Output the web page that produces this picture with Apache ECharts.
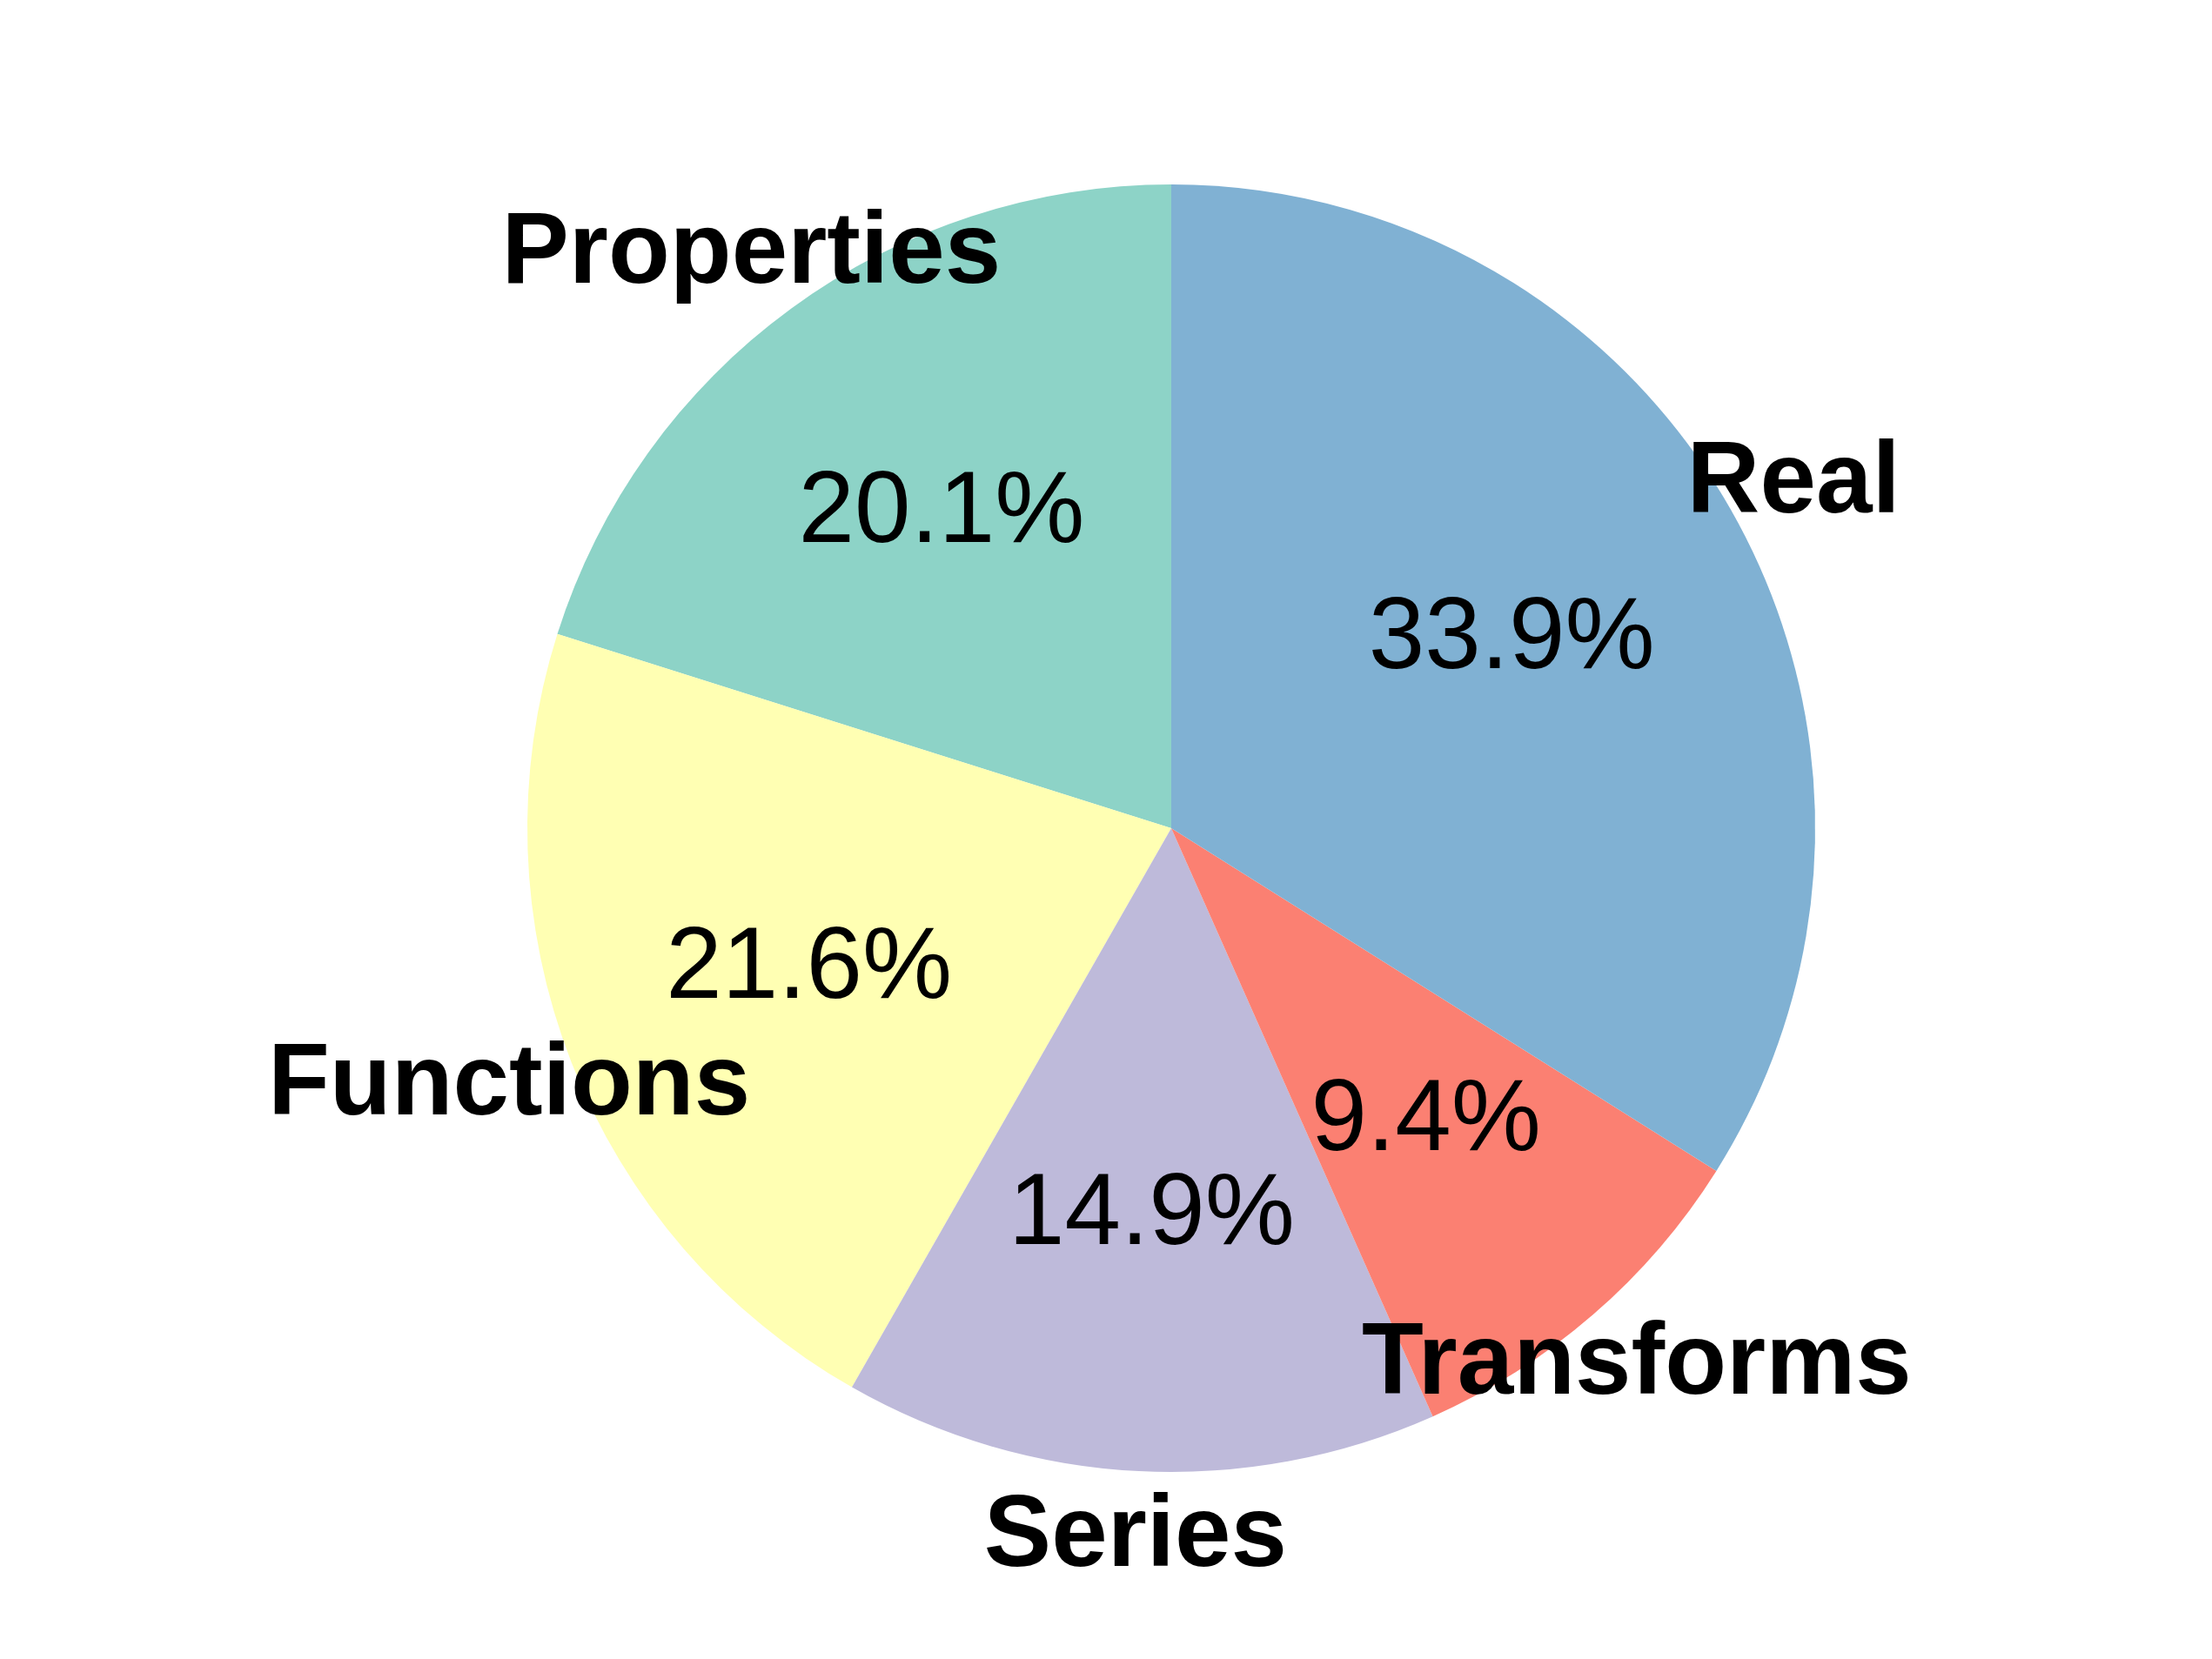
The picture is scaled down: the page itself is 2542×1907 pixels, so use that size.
<!DOCTYPE html>
<html lang="en">
<head>
  <meta charset="UTF-8">
  <title>Pie</title>
  <script src="https://cdn.jsdelivr.net/npm/echarts@6/dist/echarts.min.js"></script>
  <style>
    html, body { margin: 0; background: #fff; }
    #chart { width: 2542px; height: 1907px; }
  </style>
</head>
<body>
  <div id="chart"></div>
<script>
  // counterclockwise from the top, like the source
  let categories = ['Properties', 'Functions', 'Series', 'Transforms', 'Real']
  let shares = [20.1, 21.6, 14.9, 9.4, 33.9]
  let colors = ['#8dd3c7', '#ffffb3', '#bebada', '#fb8072', '#80b1d3']
  // left side labels hang to the left of their anchor
  let nameAlign = ['right', 'right', 'right', 'left', 'left']

  let R = 740
  let center = [1346, 952]
  let font = 'Liberation Sans, Arial, sans-serif'

  function makeData(showColor, withAlign) {
    return categories.map((name, i) => {
      let d = {
        name: name,
        value: shares[i],
        itemStyle: { color: showColor ? colors[i] : 'transparent' }
      }
      if (withAlign) d.label = { align: nameAlign[i] }
      return d
    })
  }

  let base = {
    type: 'pie', center: center, startAngle: 90, clockwise: false,
    silent: true, animation: false, labelLine: { show: false }
  }

  let chart = echarts.init(document.getElementById('chart'))
  chart.setOption({
    series: [
      Object.assign({}, base, {
        radius: [0, R],
        data: makeData(true),
        itemStyle: { borderWidth: 0 },
        label: { show: false }
      }),
      // percent labels at 0.6 R
      Object.assign({}, base, {
        radius: [0, R * 1.2],
        data: makeData(false),
        label: {
          show: true, position: 'inside', color: '#000',
          fontFamily: font, fontSize: 116,
          formatter: p => p.value.toFixed(1) + '%'
        }
      }),
      // category names anchored at 1.1 R
      Object.assign({}, base, {
        radius: [R * 1.05, R * 1.15],
        data: makeData(false, true),
        label: {
          show: true, position: 'inside', color: '#000',
          fontFamily: font, fontSize: 116, fontWeight: 'bold',
          formatter: '{b}'
        }
      })
    ]
  })
</script>
</body>
</html>
